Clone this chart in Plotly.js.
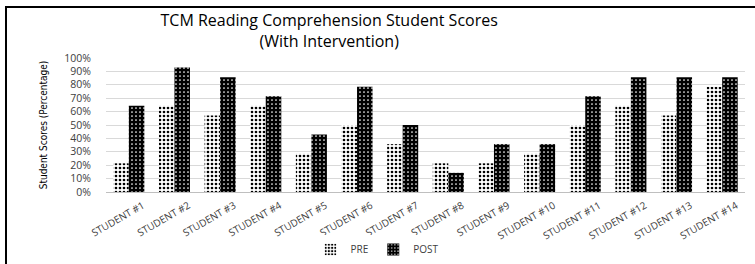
<!DOCTYPE html>
<html>
<head>
<meta charset="utf-8">
<script src="https://cdn.plot.ly/plotly-3.0.1.min.js"></script>
<style>
  html, body { margin: 0; padding: 0; background: #fff; }
  #wrap { position: relative; width: 755px; height: 264px; overflow: hidden; }
  #chart { position: absolute; left: 0; top: 0; width: 755px; height: 264px; }
  #frame { position: absolute; left: 5px; top: 6px; width: 800px; height: 400px;
           border-left: 2px solid #000; border-top: 2px solid #000; pointer-events: none; }
</style>
</head>
<body>
<div id="wrap">
  <div id="chart"></div>
  <div id="frame"></div>
</div>
<script>
const categories = ["STUDENT #1","STUDENT #2","STUDENT #3","STUDENT #4","STUDENT #5","STUDENT #6","STUDENT #7",
                    "STUDENT #8","STUDENT #9","STUDENT #10","STUDENT #11","STUDENT #12","STUDENT #13","STUDENT #14"];
const preScores  = [0.214, 0.643, 0.571, 0.643, 0.286, 0.500, 0.357, 0.214, 0.214, 0.286, 0.500, 0.643, 0.571, 0.786];
const postScores = [0.643, 0.929, 0.857, 0.714, 0.429, 0.786, 0.500, 0.143, 0.357, 0.357, 0.714, 0.857, 0.857, 0.857];
const yTickVals  = [0, 0.1, 0.2, 0.3, 0.4, 0.5, 0.6, 0.7, 0.8, 0.9, 1.0];
const yTickText  = ["0%","10%","20%","30%","40%","50%","60%","70%","80%","90%","100%"];

const tracePre = {
  type: 'bar', name: 'PRE', x: categories, y: preScores,
  marker: {
    color: '#000000',
    line: {width: 0},
    pattern: {shape: '.', bgcolor: '#ffffff', fgcolor: '#000000', size: 4, solidity: 0.35, fillmode: 'replace'}
  },
  hoverinfo: 'skip'
};
const tracePost = {
  type: 'bar', name: 'POST', x: categories, y: postScores,
  marker: {
    color: '#000000',
    line: {width: 0},
    pattern: {shape: '.', bgcolor: '#000000', fgcolor: '#ffffff', size: 4, solidity: 0.15, fillmode: 'replace'}
  },
  hoverinfo: 'skip'
};

const layout = {
  width: 755, height: 264,
  margin: {l: 106, r: 10, t: 58, b: 72},
  paper_bgcolor: '#ffffff', plot_bgcolor: '#ffffff',
  font: {family: 'Open Sans, sans-serif', color: '#404040'},
  title: {
    text: 'TCM Reading Comprehension Student Scores<br>(With Intervention)',
    font: {family: 'Open Sans, sans-serif', size: 16, color: '#000000'},
    x: 0.436, xanchor: 'center', xref: 'container', y: 0.9, yanchor: 'top', yref: 'container'
  },
  barmode: 'group', bargap: 0.32, bargroupgap: 0,
  showlegend: true,
  legend: {orientation: 'h', x: 0.5, xanchor: 'center', xref: 'container', y: 0.0, yanchor: 'bottom', yref: 'container',
           font: {size: 10, color: '#404040'}, itemwidth: 30, traceorder: 'normal'},
  xaxis: {
    type: 'category', tickangle: -30, tickfont: {size: 10, color: '#404040'},
    ticklabelshift: 14, ticklabelstandoff: 3,
    showgrid: false, showline: true, linecolor: '#bfbfbf', linewidth: 1, ticks: '', automargin: false
  },
  yaxis: {
    range: [0, 1.0], tickvals: yTickVals, ticktext: yTickText,
    tickfont: {size: 10.5, color: '#404040'}, showgrid: true, gridcolor: '#d9d9d9', gridwidth: 1,
    zeroline: false, showline: false, ticks: '', ticklen: 0, ticklabelstandoff: 14, automargin: true,
    title: {text: 'Student Scores (Percentage)', font: {family: 'Liberation Sans Narrow, DejaVu Sans Condensed, Open Sans, sans-serif', size: 10, color: '#000000'}, standoff: 14}
  }
};

Plotly.newPlot('chart', [tracePre, tracePost], layout, {staticPlot: true, displayModeBar: false});
</script>
</body>
</html>
